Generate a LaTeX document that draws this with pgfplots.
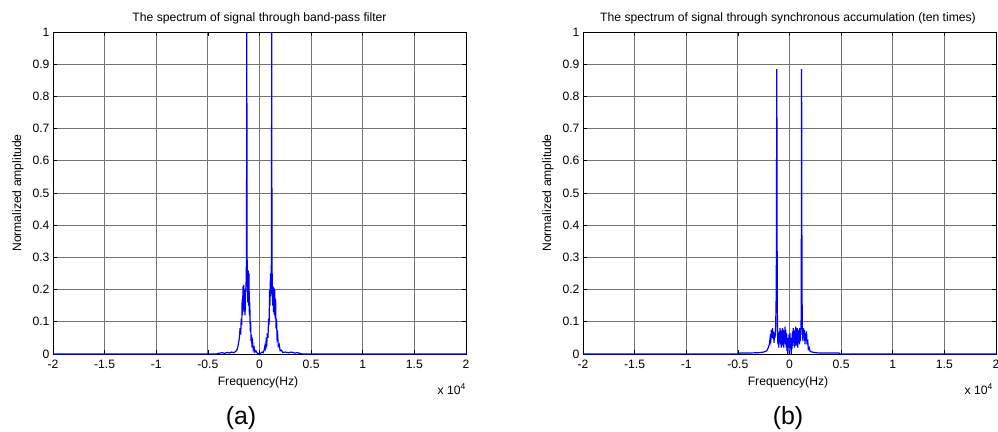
\documentclass[border=0pt]{standalone}
\usepackage{fontspec}
\setmainfont{Liberation Sans}
\usepackage{pgfplots}
\pgfplotsset{compat=1.18}

% frequency in units of 10^4 Hz, amplitude normalised
\pgfplotstableread{
x y
-2.000 0
-0.420 0
-0.400 0.002
-0.360 0.004
-0.340 0.002
-0.310 0.005
-0.290 0.003
-0.270 0.006
-0.250 0.004
-0.230 0.008
-0.215 0.015
-0.205 0.030
-0.195 0.050
-0.188 0.080
-0.182 0.060
-0.177 0.110
-0.172 0.090
-0.168 0.170
-0.164 0.120
-0.160 0.210
-0.156 0.140
-0.152 0.215
-0.148 0.130
-0.144 0.200
-0.140 0.120
-0.136 0.180
-0.130 0.220
-0.126 0.300
-0.123 1.000
-0.120 0.300
-0.117 0.240
-0.114 0.160
-0.110 0.260
-0.106 0.150
-0.102 0.250
-0.098 0.120
-0.094 0.160
-0.090 0.070
-0.086 0.100
-0.082 0.040
-0.078 0.060
-0.072 0.020
-0.066 0.035
-0.060 0.012
-0.052 0.020
-0.045 0.006
-0.035 0.010
-0.025 0.004
-0.015 0.002
0.000 0.001
0.015 0.003
0.025 0.006
0.035 0.004
0.045 0.012
0.052 0.025
0.058 0.018
0.064 0.040
0.070 0.030
0.076 0.065
0.082 0.050
0.088 0.110
0.093 0.090
0.098 0.200
0.102 0.150
0.106 0.250
0.110 0.180
0.114 0.260
0.116 0.300
0.118 1.000
0.121 0.300
0.124 0.200
0.128 0.150
0.132 0.210
0.136 0.130
0.140 0.205
0.144 0.120
0.148 0.200
0.152 0.110
0.156 0.170
0.160 0.080
0.165 0.110
0.170 0.050
0.176 0.060
0.182 0.025
0.190 0.030
0.200 0.010
0.212 0.012
0.225 0.005
0.250 0.006
0.280 0.004
0.310 0.006
0.340 0.003
0.370 0.004
0.400 0.001
0.420 0
2.000 0
}\dataA

\pgfplotstableread{
x y
-2.000 0
-0.490 0
-0.480 0.003
-0.400 0.003
-0.300 0.004
-0.250 0.006
-0.220 0.010
-0.205 0.020
-0.195 0.030
-0.188 0.050
-0.182 0.040
-0.176 0.075
-0.170 0.060
-0.165 0.080
-0.160 0.050
-0.155 0.070
-0.150 0.035
-0.145 0.065
-0.140 0.050
-0.134 0.085
-0.128 0.200
-0.123 0.885
-0.119 0.200
-0.116 0.060
-0.112 0.030
-0.108 0.065
-0.104 0.020
-0.100 0.070
-0.096 0.035
-0.092 0.080
-0.088 0.030
-0.084 0.075
-0.080 0.020
-0.076 0.070
-0.072 0.030
-0.068 0.080
-0.064 0.025
-0.060 0.075
-0.056 0.020
-0.052 0.070
-0.048 0.040
-0.044 0.085
-0.040 0.030
-0.036 0.075
-0.032 0.020
-0.028 0.065
-0.024 0.010
-0.020 0.050
-0.016 0.000
-0.012 0.040
-0.008 0.020
-0.004 0.060
0.000 0.030
0.004 0.065
0.008 0.015
0.012 0.050
0.016 0.000
0.020 0.045
0.024 0.015
0.028 0.070
0.032 0.025
0.036 0.080
0.040 0.035
0.044 0.075
0.048 0.020
0.052 0.070
0.056 0.030
0.060 0.085
0.064 0.025
0.068 0.075
0.072 0.030
0.076 0.080
0.080 0.020
0.084 0.070
0.088 0.035
0.092 0.075
0.096 0.030
0.100 0.080
0.104 0.040
0.108 0.060
0.112 0.090
0.114 0.200
0.117 0.885
0.121 0.200
0.125 0.070
0.130 0.040
0.135 0.080
0.140 0.050
0.145 0.075
0.150 0.030
0.155 0.065
0.160 0.040
0.165 0.070
0.170 0.030
0.176 0.045
0.182 0.015
0.190 0.020
0.200 0.008
0.220 0.006
0.250 0.004
0.300 0.003
0.400 0.003
0.480 0.003
0.490 0
2.000 0
}\dataB

\pgfplotsset{
  specax/.style={
    scale only axis, width=413bp, height=322bp,
    xmin=-2, xmax=2, ymin=0, ymax=1,
    xtick={-2,-1.5,-1,-0.5,0,0.5,1,1.5,2},
    xticklabels={-2,-1.5,-1,-0.5,0,0.5,1,1.5,2},
    ytick={0,0.1,0.2,0.3,0.4,0.5,0.6,0.7,0.8,0.9,1},
    yticklabels={0,0.1,0.2,0.3,0.4,0.5,0.6,0.7,0.8,0.9,1},
    tick label style={font=\fontsize{12.2}{13}\selectfont},
    xticklabel style={yshift=-2.5bp},
    grid=major, major grid style={black!55, line width=0.8bp},
    axis line style={black, line width=0.8bp},
    tick align=inside, major tick length=4bp, tick style={black, line width=0.7bp},
    anchor=south west,
  },
}

\begin{document}
\begin{tikzpicture}
\path[use as bounding box] (0,0) rectangle (998bp,-432bp);

\begin{axis}[specax, at={(53bp,-354bp)}]
\addplot[blue, line width=1.2bp] table[x=x, y=y] {\dataA};
\end{axis}

\begin{axis}[specax, at={(583bp,-354bp)}]
\addplot[blue, line width=1.2bp] table[x=x, y=y] {\dataB};
\end{axis}

\begin{scope}[every node/.style={font=\fontsize{12.2}{13}\selectfont, inner sep=0pt}]
\node at (259.5bp,-18bp) {The spectrum of signal through band-pass filter};
\node at (788bp,-18bp) {The spectrum of signal through synchronous accumulation (ten times)};
\node[rotate=90] at (18bp,-193bp) {Normalized amplitude};
\node[rotate=90] at (548bp,-193bp) {Normalized amplitude};
\node at (258bp,-382bp) {Frequency(Hz)};
\node at (788bp,-382bp) {Frequency(Hz)};
\node[anchor=east] at (466bp,-389bp) {x 10\textsuperscript{4}};
\node[anchor=east] at (993bp,-389bp) {x 10\textsuperscript{4}};
\end{scope}

\node[font=\fontsize{25}{26}\selectfont, inner sep=0pt] at (241bp,-418bp) {(a)};
\node[font=\fontsize{25}{26}\selectfont, inner sep=0pt] at (788bp,-418bp) {(b)};
\end{tikzpicture}
\end{document}
